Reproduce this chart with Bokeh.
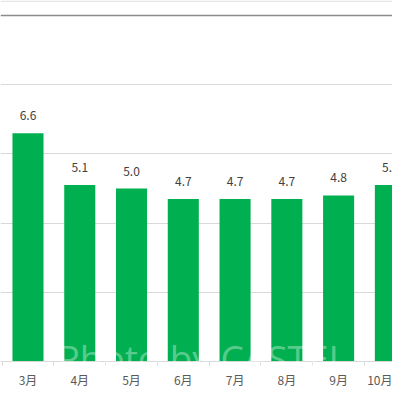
from bokeh.plotting import figure
from bokeh.models import (Range1d, LinearAxis, FixedTicker, Span, Label,
                          ColumnDataSource)
from bokeh.core.properties import value
from bokeh.embed import file_html
from bokeh.resources import INLINE

months = ["3月", "4月", "5月", "6月", "7月", "8月", "9月", "10月"]
values = [6.6, 5.1, 5.0, 4.7, 4.7, 4.7, 4.8, 5.1]
labels = [f"{v:.1f}" for v in values]
grid_ticks = [2, 4, 6, 8]
idx = list(range(len(months)))

src = ColumnDataSource(dict(x=idx, top=values, label=labels))

p = figure(width=392, height=392, output_backend="svg", toolbar_location=None,
           x_range=Range1d(-0.531, 7.041), y_range=Range1d(-0.896, 10.434),
           x_axis_location=None, y_axis_location=None,
           min_border=0, min_border_left=0, min_border_right=0,
           min_border_top=0, min_border_bottom=0)
p.outline_line_color = None
p.background_fill_color = "white"
p.border_fill_color = "white"

p.xgrid.visible = False
p.ygrid.ticker = FixedTicker(ticks=grid_ticks)
p.ygrid.grid_line_color = "#d9d9d9"
p.ygrid.grid_line_width = 1

p.add_layout(Span(location=10, dimension="width", line_color="#8c8c8c", line_width=1.5))
p.add_layout(Span(location=10.415, dimension="width", line_color="#d9d9d9", line_width=1))

p.vbar(x="x", top="top", width=0.6, bottom=0, source=src,
       fill_color="#00B050", line_color=None)

p.text(x="x", y="top", text="label", source=src, text_align="center",
       text_baseline="middle", y_offset=-17.5,
       text_font=value("Noto Sans CJK JP"), text_font_size="12px",
       text_color="#404040")

xaxis = LinearAxis(fixed_location=0)
xaxis.ticker = FixedTicker(ticks=idx, minor_ticks=[i - 0.5 for i in idx] + [len(idx) - 0.5])
xaxis.major_label_overrides = {i: m for i, m in zip(idx, months)}
xaxis.axis_line_color = "#d9d9d9"
xaxis.major_tick_out = 0
xaxis.major_tick_in = 0
xaxis.minor_tick_out = 4
xaxis.minor_tick_in = 0
xaxis.minor_tick_line_color = "#d9d9d9"
xaxis.major_label_standoff = 6
xaxis.major_label_text_font = "Noto Sans CJK JP"
xaxis.major_label_text_font_size = "12px"
xaxis.major_label_text_color = "#595959"
p.add_layout(xaxis, "below")

p.add_layout(Label(x=3.373, y=0.116, text="Photo by CASTEL", text_align="center",
                   text_baseline="alphabetic", text_font="Open Sans",
                   text_font_size="37px", text_color="white", text_alpha=0.36))

open("out.html", "w").write(file_html(p, INLINE))
